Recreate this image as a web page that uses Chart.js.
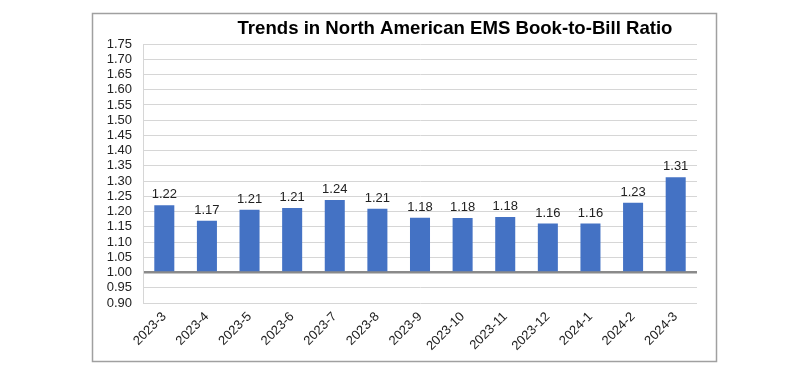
<!DOCTYPE html>
<html>
<head>
<meta charset="utf-8">
<script src="https://cdn.jsdelivr.net/npm/chart.js@4/dist/chart.umd.min.js"></script>
<style>
html,body{margin:0;padding:0;background:#fff;}
#wrap{position:absolute;left:0;top:0;width:800px;height:380px;}
</style>
</head>
<body>
<div id="wrap"><canvas id="c" width="800" height="380"></canvas></div>
<script>
const chartTitle = 'Trends in North American EMS Book-to-Bill Ratio';
const categories = ['2023-3','2023-4','2023-5','2023-6','2023-7','2023-8','2023-9','2023-10','2023-11','2023-12','2024-1','2024-2','2024-3'];
const ratios = [1.221, 1.170, 1.206, 1.212, 1.238, 1.209, 1.180, 1.179, 1.182, 1.161, 1.161, 1.229, 1.313];
const yMin = 0.90, yMax = 1.75, yStep = 0.05, baseLine = 1.00;

const FONT = '"Liberation Sans", Arial, Helvetica, sans-serif';

const framePlugin = {
  id: 'frame',
  beforeDraw(chart) {
    const ctx = chart.ctx;
    ctx.save();
    ctx.fillStyle = '#fff';
    ctx.fillRect(0, 0, chart.width, chart.height);
    ctx.strokeStyle = '#a0a0a0';
    ctx.lineWidth = 1.5;
    ctx.strokeRect(92.5, 13.5, 624, 348);
    ctx.restore();
  },
  afterDraw(chart) {
    const ctx = chart.ctx;
    const a = chart.chartArea;
    ctx.save();
    ctx.font = 'bold 18.6px ' + FONT;
    ctx.fillStyle = '#000';
    ctx.textAlign = 'center';
    ctx.textBaseline = 'middle';
    ctx.fillText(chartTitle, (a.left + a.right) / 2 + 35, 29);
    // value labels
    ctx.font = '13px ' + FONT;
    ctx.fillStyle = '#222';
    ctx.textBaseline = 'bottom';
    const meta = chart.getDatasetMeta(0);
    meta.data.forEach((bar, i) => {
      ctx.fillText(ratios[i].toFixed(2), bar.x, bar.y - 4);
    });
    ctx.restore();
  }
};

new Chart(document.getElementById('c'), {
  type: 'bar',
  data: {
    labels: categories,
    datasets: [{
      data: ratios,
      base: baseLine,
      backgroundColor: '#4472C4',
      borderWidth: 0,
      barPercentage: 0.47,
      categoryPercentage: 1.0
    }]
  },
  options: {
    responsive: false,
    animation: false,
    devicePixelRatio: 1,
    layout: { padding: { left: 0, right: 103, top: 44, bottom: 0 } },
    plugins: { legend: { display: false }, title: { display: false }, tooltip: { enabled: false } },
    scales: {
      x: {
        grid: { display: false, drawTicks: false },
        border: { display: false },
        ticks: {
          maxRotation: 45, minRotation: 45, padding: 6, autoSkip: false,
          color: '#222', font: { family: FONT, size: 13 }
        },
        afterFit(scale) { scale.height = 77; }
      },
      y: {
        min: yMin, max: yMax,
        grid: {
          drawTicks: false,
          color: (c) => (c.tick && Math.abs(c.tick.value - baseLine) < 1e-6) ? '#8a8a8a' : '#d6d6d6',
          lineWidth: (c) => (c.tick && Math.abs(c.tick.value - baseLine) < 1e-6) ? 2.5 : 1
        },
        border: { display: true, color: '#d6d6d6' },
        ticks: {
          stepSize: yStep, padding: 11, color: '#222', autoSkip: false,
          font: { family: FONT, size: 13 },
          callback: (v) => Number(v).toFixed(2)
        },
        afterFit(scale) { scale.width = 143; }
      }
    }
  },
  plugins: [framePlugin]
});
</script>
</body>
</html>
